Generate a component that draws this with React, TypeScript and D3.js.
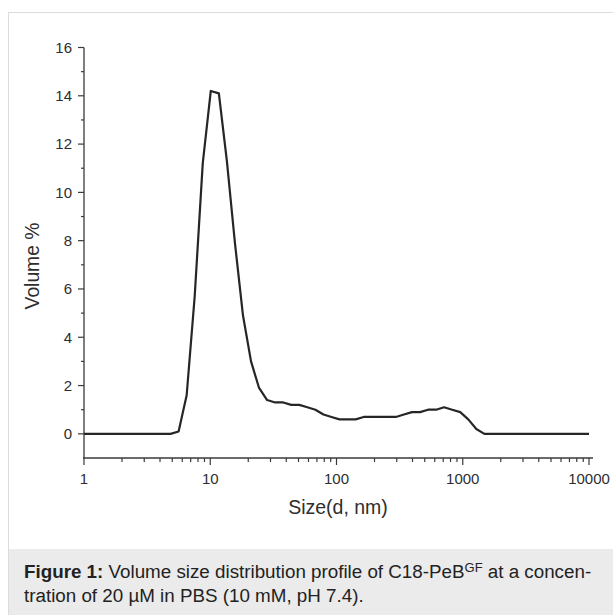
import React from "react";
import * as d3 from "d3";

const width = 613;
const height = 615;
const margin = { top: 47.5, right: 24, bottom: 157, left: 84 };

// DLS size bins (nm) and volume %
const sizes = [
  0.9649, 1.117, 1.294, 1.499, 1.736, 2.01, 2.328, 2.696, 3.122, 3.615, 4.187,
  4.849, 5.615, 6.503, 7.531, 8.721, 10.1, 11.7, 13.54, 15.69, 18.17, 21.04,
  24.36, 28.21, 32.67, 37.84, 43.82, 50.75, 58.77, 68.06, 78.82, 91.28, 105.7,
  122.4, 141.8, 164.2, 190.1, 220.2, 255.0, 295.3, 342.0, 396.1, 458.7, 531.2,
  615.1, 712.4, 825.0, 955.4, 1106, 1281, 1484, 1718, 1990, 2305, 2669, 3091,
  3580, 4145, 4801, 5560, 6439, 7456, 8635, 10000
];
const volume = [
  0, 0, 0, 0, 0, 0, 0, 0, 0, 0, 0,
  0, 0.1, 1.6, 5.7, 11.2, 14.2, 14.1, 11.3, 7.9, 4.9, 3.0,
  1.9, 1.4, 1.3, 1.3, 1.2, 1.2, 1.1, 1.0, 0.8, 0.7, 0.6,
  0.6, 0.6, 0.7, 0.7, 0.7, 0.7, 0.7, 0.8, 0.9, 0.9, 1.0,
  1.0, 1.1, 1.0, 0.9, 0.6, 0.2, 0, 0, 0, 0, 0, 0,
  0, 0, 0, 0, 0, 0, 0, 0
];

const xMajor = [1, 10, 100, 1000, 10000];
const yMajor = [0, 2, 4, 6, 8, 10, 12, 14, 16];
const yMinor = [1, 3, 5, 7, 9, 11, 13, 15];

const x = d3
  .scaleLog()
  .domain([1, 10000])
  .range([margin.left, 589]);

const y = d3
  .scaleLinear()
  .domain([-1, 16])
  .range([458, margin.top]);

const xMinor = xMajor
  .slice(0, -1)
  .flatMap(d => d3.range(2, 10).map(k => d * k));

const axisColor = "#3a3a3a";
const font = "'Liberation Sans', Arial, sans-serif";

export default function App() {
  const data = sizes.map((s, i) => ({ s, v: volume[i] }));
  const line = d3
    .line<{ s: number; v: number }>()
    .x(d => x(d.s))
    .y(d => y(d.v));

  const x0 = margin.left;
  const yBase = y(-1);

  return (
    <svg
      width={width}
      height={height}
      style={{ position: "absolute", left: 0, top: 0, background: "#fff" }}
      fontFamily={font}
    >
      {/* figure frame */}
      <rect x={8.5} y={12.5} width={620} height={620} fill="none" stroke="#dcdcdc" />
      <rect x={9} y={549} width={610} height={66} fill="#ebebeb" />

      <defs>
        <clipPath id="plot">
          <rect x={x0} y={0} width={520} height={yBase} />
        </clipPath>
      </defs>

      {/* y axis */}
      <line x1={x0} x2={x0} y1={y(16)} y2={yBase} stroke={axisColor} strokeWidth={1.3} />
      {yMajor.map(t => (
        <g key={"ym" + t}>
          <line x1={x0 - 6} x2={x0} y1={y(t)} y2={y(t)} stroke={axisColor} strokeWidth={1.2} />
          <text
            x={x0 - 12}
            y={y(t)}
            dy="0.36em"
            textAnchor="end"
            fontSize={15}
            fill="#2e2e2e"
          >
            {t}
          </text>
        </g>
      ))}
      {yMinor.map(t => (
        <line key={"yn" + t} x1={x0 - 3} x2={x0} y1={y(t)} y2={y(t)} stroke={axisColor} strokeWidth={1.2} />
      ))}

      {/* x axis */}
      <line x1={x0 - 1} x2={593} y1={yBase} y2={yBase} stroke={axisColor} strokeWidth={1.3} />
      {xMajor.map(t => (
        <g key={"xm" + t}>
          <line x1={x(t)} x2={x(t)} y1={yBase} y2={yBase + 7} stroke={axisColor} strokeWidth={1.2} />
          <text x={x(t)} y={484} textAnchor="middle" fontSize={15} fill="#2e2e2e">
            {t}
          </text>
        </g>
      ))}
      {xMinor.map(t => (
        <line key={"xn" + t} x1={x(t)} x2={x(t)} y1={yBase} y2={yBase + 4} stroke={axisColor} strokeWidth={1.2} />
      ))}

      {/* axis titles */}
      <text
        transform={`translate(39,266) rotate(-90)`}
        textAnchor="middle"
        fontSize={19.3}
        fill="#2e2e2e"
      >
        Volume %
      </text>
      <text x={338} y={514} textAnchor="middle" fontSize={19.5} fill="#2e2e2e">
        Size(d, nm)
      </text>

      {/* curve */}
      <path
        d={line(data) ?? ""}
        fill="none"
        stroke="#262626"
        strokeWidth={2.2}
        strokeLinejoin="round"
        clipPath="url(#plot)"
      />

      {/* caption */}
      <text x={24} y={578} fontSize={18.8} fill="#222">
        <tspan fontWeight="bold">Figure 1:</tspan>
        <tspan> Volume size distribution profile of C18-PeB</tspan>
        <tspan fontSize={13} dy={-6.5}>GF</tspan>
        <tspan dy={6.5}> at a concen-</tspan>
      </text>
      <text x={24} y={602} fontSize={18.8} fill="#222">
        tration of 20 µM in PBS (10 mM, pH 7.4).
      </text>
    </svg>
  );
}
